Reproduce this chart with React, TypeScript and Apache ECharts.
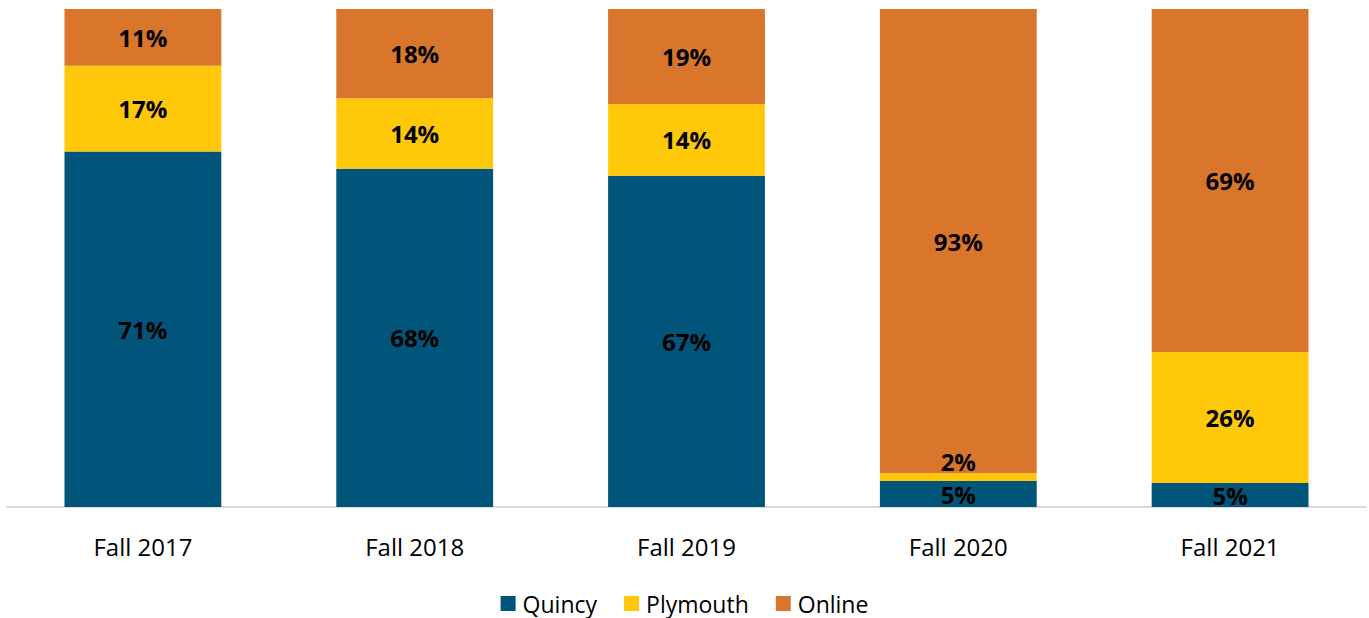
import React, { useEffect, useRef } from "react";
import * as echarts from "echarts";

const categories = ["Fall 2017", "Fall 2018", "Fall 2019", "Fall 2020", "Fall 2021"];
const quincy = [71.4, 67.9, 66.5, 5.2, 4.8];
const plymouth = [17.2, 14.2, 14.4, 1.6, 26.3];
const online = [11.4, 17.9, 19.1, 93.2, 68.9];

const colors = { quincy: "#02557A", plymouth: "#FFC90A", online: "#D9762B" };
const FONT = "'Open Sans', Lato, sans-serif";

export default function App() {
  const ref = useRef<HTMLDivElement>(null);
  useEffect(() => {
    if (!ref.current) return;
    const chart = echarts.init(ref.current, null, { renderer: "svg" });
    const label = {
      show: true,
      position: "inside",
      color: "#000",
      fontWeight: "bold",
      fontSize: 24,
      fontFamily: FONT,
      formatter: (p: any) => Math.round(p.value) + "%",
    };
    const plymouthData = plymouth.map((v) =>
      v < 4 ? { value: v, label: { offset: [0, -16] } } : v
    );
    chart.setOption({
      animation: false,
      textStyle: { fontFamily: FONT },
      grid: { left: 7, right: 3, top: 9, bottom: 111, containLabel: false },
      legend: {
        top: 587,
        left: "center",
        itemWidth: 15,
        itemHeight: 15,
        itemGap: 27,
        icon: "rect",
        textStyle: { fontSize: 23, color: "#000", fontFamily: FONT, padding: [0, 0, 0, 2] },
        data: ["Quincy", "Plymouth", "Online"],
      },
      xAxis: {
        type: "category",
        data: categories,
        axisLine: { lineStyle: { color: "#D9D9D9", width: 2 } },
        axisTick: { show: false },
        axisLabel: { fontSize: 24, color: "#000", margin: 27, fontFamily: FONT },
      },
      yAxis: { type: "value", min: 0, max: 100, show: false },
      series: [
        { name: "Quincy", type: "bar", stack: "a", data: quincy, barWidth: "57.7%", itemStyle: { color: colors.quincy }, label },
        { name: "Plymouth", type: "bar", stack: "a", data: plymouthData, itemStyle: { color: colors.plymouth }, label },
        { name: "Online", type: "bar", stack: "a", data: online, itemStyle: { color: colors.online }, label },
      ],
    });
    return () => chart.dispose();
  }, []);
  return (
    <div
      ref={ref}
      style={{ position: "absolute", left: 0, top: 0, width: 1369, height: 618 }}
    />
  );
}
